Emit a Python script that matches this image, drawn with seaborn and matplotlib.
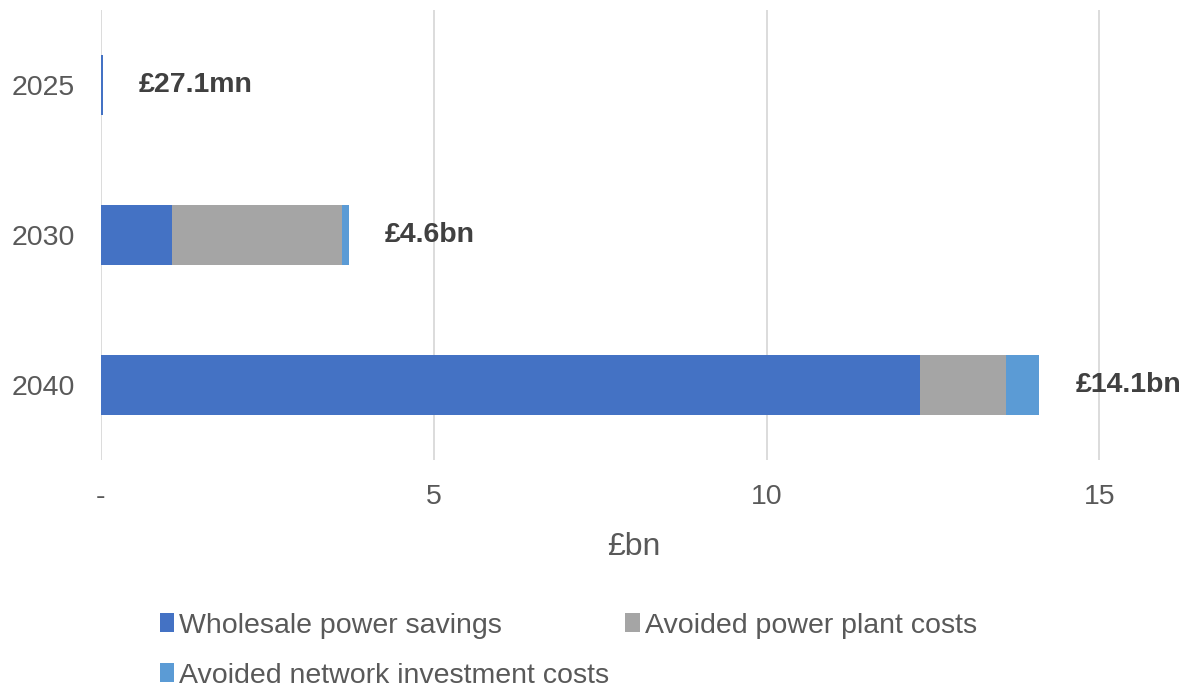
import pandas as pd
import seaborn as sns
import matplotlib.pyplot as plt
from matplotlib.patches import Patch

# Values (£bn)
years = ["2025", "2030", "2040"]
wholesale = [0.0271, 1.07, 12.31]
power_plant = [0.0, 2.55, 1.29]
network = [0.0, 0.10, 0.50]
total_labels = ["£27.1mn", "£4.6bn", "£14.1bn"]

series_names = ["Wholesale power savings", "Avoided power plant costs",
                "Avoided network investment costs"]
colors = ["#4472C4", "#A5A5A5", "#5B9BD5"]

df = pd.DataFrame({"year": years, "wholesale": wholesale,
                   "power_plant": power_plant, "network": network})
# running totals so the stacked segments can be layered back-to-front
df["c1"] = df["wholesale"]
df["c2"] = df["c1"] + df["power_plant"]
df["c3"] = df["c2"] + df["network"]

sns.set_style("white")
plt.rcParams["font.family"] = ["Liberation Sans", "DejaVu Sans"]

fig = plt.figure(figsize=(11.95, 6.91), dpi=100)
ax = fig.add_axes([0.0845, 0.334, 0.8912, 0.6515])

for col, color in zip(["c3", "c2", "c1"], colors[::-1]):
    sns.barplot(data=df, y="year", x=col, color=color, width=0.4,
                orient="h", ax=ax, saturation=1, linewidth=0)

ax.set_xlim(0, 16)
ax.set_ylim(2.5, -0.5)
ax.set_xticks([0, 5, 10, 15])
ax.set_xticklabels(["-", "5", "10", "15"])
ax.xaxis.grid(True, color="#D9D9D9", linewidth=1.3)
ax.set_axisbelow(True)
for s in ax.spines.values():
    s.set_visible(False)
ax.tick_params(axis="both", length=0, labelsize=20.5, colors="#595959")
ax.tick_params(axis="x", pad=17)
ax.tick_params(axis="y", pad=19)
ax.set_ylabel("")
ax.set_xlabel("£bn", fontsize=23, color="#595959", labelpad=16)

for i, (tot, lab) in enumerate(zip(df["c3"], total_labels)):
    ax.annotate(lab, xy=(tot, i), xytext=(26, 0), textcoords="offset points",
                ha="left", va="center", fontsize=20.5, fontweight="bold",
                color="#404040")

# legend fills column-first, so order handles to read row by row
order = [0, 2, 1]
handles = [Patch(facecolor=colors[k], edgecolor="none") for k in order]
labels = [series_names[k] for k in order]
fig.legend(handles, labels, loc="upper left", bbox_to_anchor=(0.124, 0.13),
           ncol=2, frameon=False, fontsize=20.5, labelcolor="#595959",
           handlelength=0.5, handleheight=0.65, handletextpad=0.2,
           columnspacing=0.55, labelspacing=0.85, borderaxespad=0)

fig.savefig("out.png", dpi=100)
